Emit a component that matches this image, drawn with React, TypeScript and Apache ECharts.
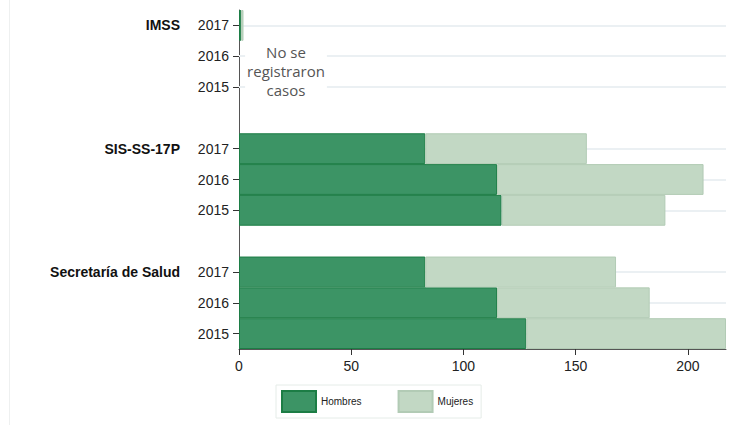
import React, { useEffect, useRef } from "react";
import * as echarts from "echarts";

const groups = ["IMSS", "SIS-SS-17P", "Secretaría de Salud"];
const years = ["2017", "2016", "2015"];
const imssHombres = [1, 0, 0];
const imssMujeres = [1, 0, 0];
const sisHombres = [83, 115, 117];
const sisMujeres = [72, 92, 73];
const ssaHombres = [83, 115, 128];
const ssaMujeres = [85, 68, 89];
const xTicks = [0, 50, 100, 150, 200];
const xMax = 217;
const noteText = "No se\nregistraron\ncasos";

const hombresByGroup = [imssHombres, sisHombres, ssaHombres];
const mujeresByGroup = [imssMujeres, sisMujeres, ssaMujeres];

const categories: string[] = [];
const hombresData: (number | null)[] = [];
const mujeresData: (number | null)[] = [];
groups.forEach((g, gi) => {
  if (gi > 0) {
    categories.push("gap" + gi);
    hombresData.push(null);
    mujeresData.push(null);
  }
  years.forEach((y, yi) => {
    categories.push(g + "|" + y);
    hombresData.push(hombresByGroup[gi][yi] || null);
    mujeresData.push(mujeresByGroup[gi][yi] || null);
  });
});
const isGap = (c: string) => c.indexOf("|") < 0;

export default function App() {
  const ref = useRef<HTMLDivElement>(null);
  useEffect(() => {
    if (!ref.current) return;
    const chart = echarts.init(ref.current, undefined, { renderer: "svg" });
    const font = "'Liberation Sans', Arial, sans-serif";
    chart.setOption({
      animation: false,
      grid: { left: 239, right: 11, top: 10, bottom: 76, containLabel: false },
      xAxis: {
        type: "value",
        min: 0,
        max: xMax,
        interval: 50,
        splitLine: { show: false },
        axisLine: { show: true, lineStyle: { color: "#555", width: 1 } },
        axisTick: { show: true, length: 6, lineStyle: { color: "#333" } },
        axisLabel: {
          showMaxLabel: false,
          margin: 10,
          color: "#222",
          fontSize: 14,
          fontFamily: font,
          formatter: (v: number) => (xTicks.indexOf(v) >= 0 ? String(v) : ""),
        },
      },
      yAxis: [
        {
          type: "category",
          inverse: true,
          data: categories,
          axisLine: { show: true, lineStyle: { color: "#555", width: 1 } },
          axisTick: {
            show: true,
            alignWithLabel: true,
            length: 6,
            interval: (i: number, v: string) => !isGap(v),
            lineStyle: { color: "#333" },
          },
          axisLabel: {
            margin: 10,
            color: "#222",
            fontSize: 14,
            fontFamily: font,
            interval: 0,
            formatter: (v: string) => (isGap(v) ? "" : v.split("|")[1]),
          },
          splitLine: { show: false },
        },
        {
          type: "category",
          inverse: true,
          position: "left",
          data: categories,
          axisLine: { show: false },
          axisTick: { show: false },
          axisLabel: {
            margin: 59,
            interval: 0,
            color: "#111",
            fontSize: 14,
            fontWeight: "bold",
            fontFamily: font,
            formatter: (v: string) => {
              if (isGap(v)) return "";
              const [g, y] = v.split("|");
              return y === years[0] ? g : "";
            },
          },
        },
      ],
      legend: {
        bottom: 7,
        left: 276,
        orient: "horizontal",
        icon: "rect",
        itemWidth: 34,
        itemHeight: 21,
        itemGap: 36,
        padding: [5, 8, 5, 5],
        borderColor: "#e5ece8",
        borderWidth: 1,
        backgroundColor: "#fff",
        textStyle: { fontSize: 10, fontFamily: font, color: "#222" },
        data: ["Hombres", "Mujeres"],
      },
      series: [
        {
          name: "Hombres",
          type: "bar",
          stack: "total",
          yAxisIndex: 0,
          barCategoryGap: "0%",
          z: 3,
          itemStyle: { color: "#3c9465", borderColor: "#1c7d45", borderWidth: 1 },
          data: hombresData,
          markLine: {
            silent: true,
            z: 1,
            symbol: "none",
            label: { show: false },
            lineStyle: { color: "#ebf0f3", width: 2, type: "solid" },
            data: categories.filter((c) => !isGap(c)).map((c) => ({ yAxis: c })),
          },
        },
        {
          name: "Mujeres",
          type: "bar",
          stack: "total",
          yAxisIndex: 0,
          barCategoryGap: "0%",
          z: 3,
          itemStyle: { color: "#c2d8c4", borderColor: "#b2cbb5", borderWidth: 1 },
          data: mujeresData,
        },
      ],
      graphic: [
        {
          type: "line",
          shape: { x1: 9.5, y1: 0, x2: 9.5, y2: 425 },
          style: { stroke: "#eef0f0", lineWidth: 1 },
          silent: true,
        },
        {
          type: "text",
          x: 286,
          y: 42,
          z: 100,
          style: {
            text: noteText,
            textAlign: "center",
            textVerticalAlign: "top",
            font: "15px 'Open Sans', sans-serif",
            lineHeight: 19,
            fill: "#555",
            backgroundColor: "#fff",
            padding: [0, 2, 0, 2],
          },
          silent: true,
        },
      ],
    });
    return () => chart.dispose();
  }, []);
  return (
    <div
      ref={ref}
      style={{ position: "fixed", left: 0, top: 0, width: 737, height: 425, background: "#fff" }}
    />
  );
}
